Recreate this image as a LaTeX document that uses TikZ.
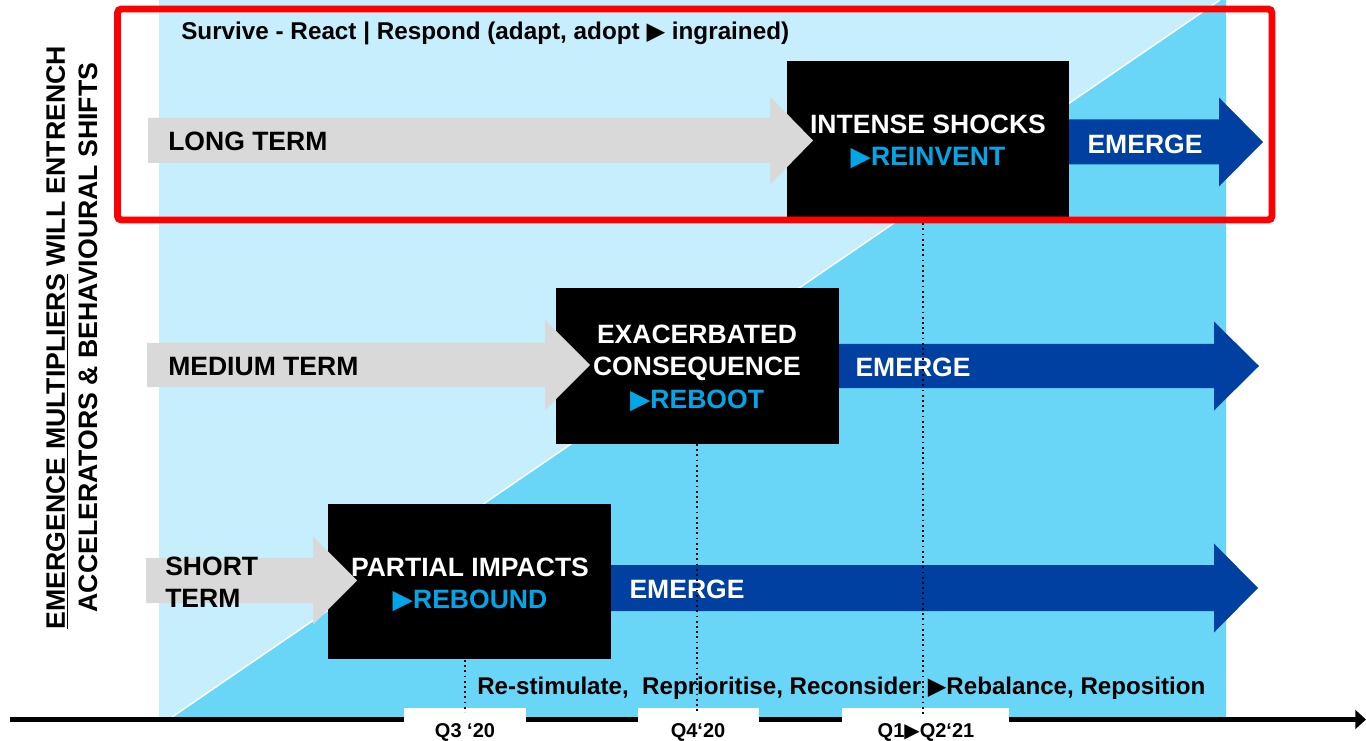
\documentclass[tikz,border=0pt]{standalone}
\usepackage{fontspec}
\setmainfont{Liberation Sans}
\newfontfamily\symfont{DejaVu Sans}
\usetikzlibrary{arrows.meta}

\definecolor{skylight}{RGB}{199,238,252}
\definecolor{skymid}{RGB}{106,214,247}
\definecolor{navyarrow}{RGB}{0,64,160}
\definecolor{greyarrow}{RGB}{217,217,217}
\definecolor{cyantext}{RGB}{0,166,232}
\definecolor{framered}{RGB}{255,0,0}

% solid right-pointing triangle used as a separator
\newcommand{\tri}{{\symfont ▶}}

% block arrow: style, x start, x head base, x tip, y centre, body half height, head half height
\newcommand{\blockarrow}[7]{%
  \fill[#1] (#2,#5-#6) -- (#3,#5-#6) -- (#3,#5-#7) -- (#4,#5)
    -- (#3,#5+#7) -- (#3,#5+#6) -- (#2,#5+#6) -- cycle;}

\begin{document}
\begin{tikzpicture}[x=0.75pt,y=-0.75pt,
  big/.style={font=\bfseries\fontsize{19.9pt}{24.4pt}\selectfont, inner sep=0pt},
  termlbl/.style={big, anchor=west, align=left, text=black},
  stagebox/.style={fill=black, inner sep=0pt},
  stagetxt/.style={big, align=center, text=white},
  emergelbl/.style={big, text=white},
  toptxt/.style={font=\bfseries\fontsize{18.2pt}{20pt}\selectfont, inner sep=0pt, text=black},
  bottxt/.style={font=\bfseries\fontsize{18.1pt}{20pt}\selectfont, inner sep=0pt, text=black},
  qlbl/.style={font=\bfseries\fontsize{15pt}{18pt}\selectfont, inner sep=0pt, text=black},
  sidetxt/.style={font=\bfseries\fontsize{20pt}{23pt}\selectfont, inner sep=0pt, rotate=90, text=black},
  timeline/.style={line width=4.2pt, black, -{Triangle[length=8pt,width=14pt]}},
  marker/.style={black, line width=1.3pt, dash pattern=on 1.3pt off 2.6pt},
  greyarr/.style={greyarrow},
  navyarr/.style={navyarrow},
]
\useasboundingbox (0,0) rectangle (1366,741);

% background panels
\fill[skylight] (159,0) rectangle (1226,717);
\fill[skymid] (172,717) -- (1220,0) -- (1226,0) -- (1226,717) -- cycle;
\draw[white, line width=1.1pt] (172,717) -- (1220,0);

% timeline
\coordinate (axisL) at (10,719.5);
\coordinate (axisR) at (1366,719.5);
\draw[timeline] (axisL) -- (axisR);

% quarter label boxes
\fill[white] (404,708) rectangle (526,741);
\fill[white] (638,708) rectangle (759,741);
\fill[white] (842,708) rectangle (1009,741);
\node[qlbl] (q3) at (465,732) {Q3 ‘20};
\node[qlbl] (q4) at (698,732) {Q4‘20};
\node[qlbl] (q12) at (926,732) {Q1\tri Q2‘21};

% stage boxes
\node[stagebox, minimum width=211.5pt, minimum height=117pt] (shocks) at (928,139) {};
\node[stagebox, minimum width=212.25pt, minimum height=117pt] (conseq) at (697.5,366) {};
\node[stagebox, minimum width=212.25pt, minimum height=116.25pt] (impacts) at (469.5,581.5) {};

% horizon arrows
\blockarrow{greyarr}{148}{770}{813}{140.5}{22.5}{44}
\blockarrow{greyarr}{147}{545}{590}{365}{22}{45}
\blockarrow{greyarr}{146}{313}{357}{580.5}{22.5}{44}

% emerge arrows
\blockarrow{navyarr}{1069}{1219}{1263}{142}{22.5}{44.5}
\blockarrow{navyarr}{839}{1214}{1259}{366}{22}{44.5}
\blockarrow{navyarr}{611}{1214}{1258}{588}{23}{44.5}

% stage texts
\node[stagetxt] (shockstxt) at (928,142) {INTENSE SHOCKS\\\textcolor{cyantext}{\tri REINVENT}};
\node[stagetxt] (conseqtxt) at (697,368) {EXACERBATED\\CONSEQUENCE\\\textcolor{cyantext}{\tri REBOOT}};
\node[stagetxt] (impactstxt) at (470,585) {PARTIAL IMPACTS\\\textcolor{cyantext}{\tri REBOUND}};

% horizon labels
\node[termlbl] (longlbl) at (168,141.5) {LONG TERM};
\node[termlbl] (medlbl) at (168,366.5) {MEDIUM TERM};
\node[termlbl] (shortlbl) at (165,582) {SHORT\\TERM};

% emerge labels
\node[emergelbl] (em1) at (1145,144) {EMERGE};
\node[emergelbl] (em2) at (913,367) {EMERGE};
\node[emergelbl] (em3) at (687,589) {EMERGE};

% quarter markers
\coordinate (m3a) at (465,660);
\coordinate (m3b) at (465,712);
\coordinate (m4a) at (697,444);
\coordinate (m4b) at (697,714);
\coordinate (m12a) at (923,218);
\coordinate (m12b) at (923,714);
\draw[marker] (m3a) -- (m3b);
\draw[marker] (m4a) -- (m4b);
\draw[marker] (m12a) -- (m12b);

% captions
\node[toptxt, anchor=west] (survive) at (181,33) {Survive - React | Respond (adapt, adopt \tri\ ingrained)};
\node[bottxt, anchor=west] (actions) at (477,688) {Re-stimulate,\ \ Reprioritise, Reconsider \tri Rebalance, Reposition};

% side titles
\node[sidetxt] (side1) at (57,337.5) {\underline{EMERGENCE MULTIPLIERS} WILL ENTRENCH};
\node[sidetxt] (side2) at (88,337.5) {ACCELERATORS \& BEHAVIOURAL SHIFTS};

% highlight frame
\draw[framered, line width=5.2pt, rounded corners=3pt] (117.5,9) rectangle (1272,220);
\end{tikzpicture}
\end{document}
